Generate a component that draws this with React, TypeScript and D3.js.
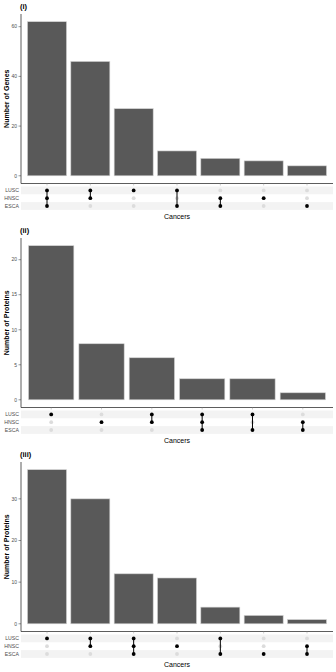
import React from "react";
import * as d3 from "d3";

const SETS = ["LUSC", "HNSC", "ESCA"];

// (i) genes
const genesCounts = [62, 46, 27, 10, 7, 6, 4];
const genesSets = [
  ["LUSC", "HNSC", "ESCA"],
  ["LUSC", "HNSC"],
  ["LUSC"],
  ["LUSC", "ESCA"],
  ["HNSC", "ESCA"],
  ["HNSC"],
  ["ESCA"],
];
const genesTicks = [0, 20, 40, 60];

// (ii) proteins
const prot2Counts = [22, 8, 6, 3, 3, 1];
const prot2Sets = [
  ["LUSC"],
  ["HNSC"],
  ["LUSC", "HNSC"],
  ["LUSC", "HNSC", "ESCA"],
  ["LUSC", "ESCA"],
  ["HNSC", "ESCA"],
];
const prot2Ticks = [0, 5, 10, 15, 20];

// (iii) proteins
const prot3Counts = [37, 30, 12, 11, 4, 2, 1];
const prot3Sets = [
  ["LUSC"],
  ["LUSC", "HNSC"],
  ["LUSC", "HNSC", "ESCA"],
  ["HNSC"],
  ["LUSC", "ESCA"],
  ["ESCA"],
  ["HNSC", "ESCA"],
];
const prot3Ticks = [0, 10, 20, 30];

const FONT = "'Liberation Sans', Arial, Helvetica, sans-serif";
const LEFT = 21;
const RIGHT = 333;
const PANEL_H = 169.5;
const ROW_H = 7.8;

type PanelProps = {
  top: number;
  tag: string;
  ylab: string;
  counts: number[];
  sets: string[][];
  ticks: number[];
};

function UpsetPanel({ top, tag, ylab, counts, sets, ticks }: PanelProps) {
  const idx = counts.map((_, i) => String(i));
  const x = d3.scaleBand().domain(idx).range([LEFT, RIGHT]).paddingInner(0.1).paddingOuter(0.15);
  const max = d3.max(counts) as number;
  const bottom = top + PANEL_H;
  const y = d3.scaleLinear().domain([-0.05 * max, 1.05 * max]).range([bottom, top]);
  const row = d3.scaleBand().domain(SETS).range([bottom + 3, bottom + 3 + ROW_H * 3]);
  const cx = (i: number) => (x(String(i)) as number) + x.bandwidth() / 2;
  const cy = (s: string) => (row(s) as number) + row.bandwidth() / 2;

  return (
    <g>
      <text x={LEFT - 1} y={top - 5} fontSize={7.5} fontWeight="bold" fontFamily={FONT} fill="#000">
        {tag}
      </text>
      {/* bars */}
      {counts.map((c, i) => (
        <rect
          key={i}
          x={x(String(i))}
          y={y(c)}
          width={x.bandwidth()}
          height={y(0) - y(c)}
          fill="#595959"
          stroke="#d0d0d0"
          strokeWidth={0.6}
        />
      ))}
      {/* y axis */}
      <line x1={LEFT} x2={LEFT} y1={top} y2={bottom} stroke="#333" strokeWidth={0.8} />
      {ticks.map((t) => (
        <g key={t}>
          <line x1={LEFT - 2.5} x2={LEFT} y1={y(t)} y2={y(t)} stroke="#333" strokeWidth={0.5} />
          <text
            x={LEFT - 4}
            y={y(t)}
            dy="0.35em"
            textAnchor="end"
            fontSize={5}
            fontFamily={FONT}
            fill="#4d4d4d"
          >
            {t}
          </text>
        </g>
      ))}
      <text
        transform={`translate(9,${(top + bottom) / 2}) rotate(-90)`}
        textAnchor="middle"
        fontSize={7}
        fontWeight="bold"
        fontFamily={FONT}
        fill="#000"
      >
        {ylab}
      </text>
      {/* x axis */}
      <line x1={LEFT} x2={RIGHT} y1={bottom} y2={bottom} stroke="#333" strokeWidth={0.8} />
      {counts.map((_, i) => (
        <line key={i} x1={cx(i)} x2={cx(i)} y1={bottom} y2={bottom + 2} stroke="#999" strokeWidth={0.5} />
      ))}
      {/* matrix stripes */}
      {SETS.map((s, k) =>
        k % 2 === 0 ? (
          <rect key={s} x={LEFT} y={row(s)} width={RIGHT - LEFT} height={row.bandwidth()} fill="#f3f3f3" />
        ) : null
      )}
      {SETS.map((s) => (
        <text
          key={s}
          x={LEFT - 2}
          y={cy(s)}
          dy="0.35em"
          textAnchor="end"
          fontSize={5.2}
          fontFamily={FONT}
          fill="#4d4d4d"
        >
          {s}
        </text>
      ))}
      {sets.map((members, i) => {
        const ys = members.map(cy);
        return (
          <g key={i}>
            {SETS.map((s) => (
              <circle key={s} cx={cx(i)} cy={cy(s)} r={1.9} fill={members.includes(s) ? "#000" : "#dcdcdc"} />
            ))}
            {members.length > 1 && (
              <line
                x1={cx(i)}
                x2={cx(i)}
                y1={d3.min(ys)}
                y2={d3.max(ys)}
                stroke="#000"
                strokeWidth={1}
              />
            )}
          </g>
        );
      })}
      <text
        x={(LEFT + RIGHT) / 2}
        y={bottom + 35}
        textAnchor="middle"
        fontSize={7}
        fontFamily={FONT}
        fill="#000"
      >
        Cancers
      </text>
    </g>
  );
}

export default function App() {
  return (
    <svg
      width={336}
      height={672}
      style={{ position: "absolute", left: 0, top: 0, background: "#fff" }}
    >
      <UpsetPanel top={14} tag="(i)" ylab="Number of Genes" counts={genesCounts} sets={genesSets} ticks={genesTicks} />
      <UpsetPanel top={238} tag="(ii)" ylab="Number of Proteins" counts={prot2Counts} sets={prot2Sets} ticks={prot2Ticks} />
      <UpsetPanel top={462} tag="(iii)" ylab="Number of Proteins" counts={prot3Counts} sets={prot3Sets} ticks={prot3Ticks} />
    </svg>
  );
}
